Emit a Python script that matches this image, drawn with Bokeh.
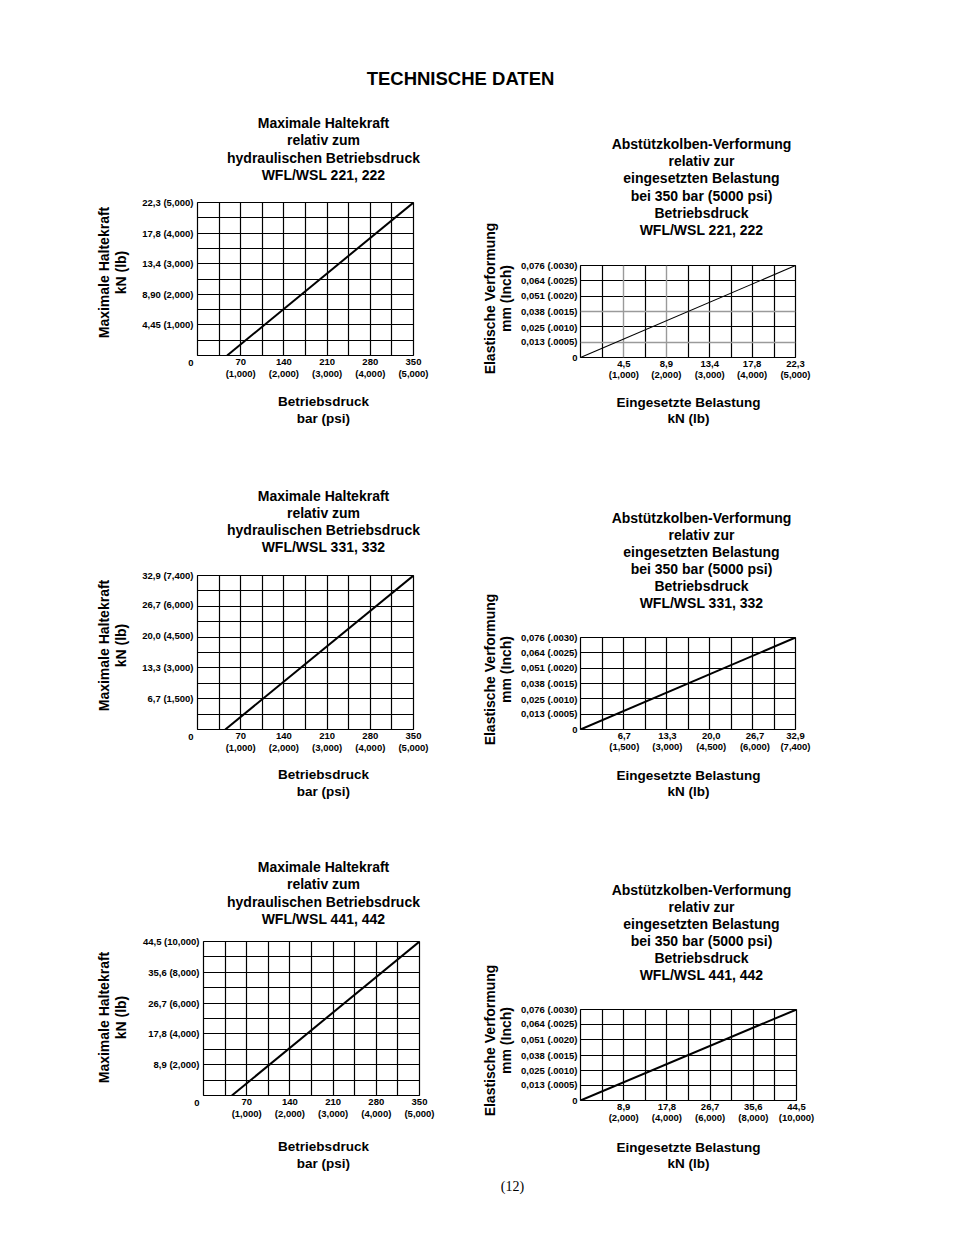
import math
from bokeh.plotting import figure
from bokeh.models import Range1d, FixedTicker, Label, Grid
from bokeh.layouts import column, row
from bokeh.embed import file_html
from bokeh.resources import INLINE

# ------------------------------------------------------------------ data
page_title = "TECHNISCHE DATEN"
page_number = "(12)"

hold_title_221 = "Maximale Haltekraft\nrelativ zum\nhydraulischen Betriebsdruck\nWFL/WSL 221, 222"
hold_title_331 = "Maximale Haltekraft\nrelativ zum\nhydraulischen Betriebsdruck\nWFL/WSL 331, 332"
hold_title_441 = "Maximale Haltekraft\nrelativ zum\nhydraulischen Betriebsdruck\nWFL/WSL 441, 442"
defl_title_221 = "Abstützkolben-Verformung\nrelativ zur\neingesetzten Belastung\nbei 350 bar (5000 psi)\nBetriebsdruck\nWFL/WSL 221, 222"
defl_title_331 = "Abstützkolben-Verformung\nrelativ zur\neingesetzten Belastung\nbei 350 bar (5000 psi)\nBetriebsdruck\nWFL/WSL 331, 332"
defl_title_441 = "Abstützkolben-Verformung\nrelativ zur\neingesetzten Belastung\nbei 350 bar (5000 psi)\nBetriebsdruck\nWFL/WSL 441, 442"

hold_xlabel = "Betriebsdruck\nbar (psi)"
hold_ylabel = "Maximale Haltekraft\nkN (lb)"
defl_xlabel = "Eingesetzte Belastung\nkN (lb)"
defl_ylabel = "Elastische Verformung\nmm (Inch)"

# holding force vs. pressure
pressure_ticks = [70, 140, 210, 280, 350]
pressure_labels = ["70\n(1,000)", "140\n(2,000)", "210\n(3,000)", "280\n(4,000)", "350\n(5,000)"]
pressure_max = 350

hold221_force_ticks = [4.45, 8.90, 13.4, 17.8, 22.3]
hold221_force_labels = ["4,45 (1,000)", "8,90 (2,000)", "13,4 (3,000)", "17,8 (4,000)", "22,3 (5,000)"]
hold221_pressure = [48, 350]
hold221_force = [0, 22.3]

hold331_force_ticks = [6.7, 13.3, 20.0, 26.7, 32.9]
hold331_force_labels = ["6,7 (1,500)", "13,3 (3,000)", "20,0 (4,500)", "26,7 (6,000)", "32,9 (7,400)"]
hold331_pressure = [45, 350]
hold331_force = [0, 32.9]

hold441_force_ticks = [8.9, 17.8, 26.7, 35.6, 44.5]
hold441_force_labels = ["8,9 (2,000)", "17,8 (4,000)", "26,7 (6,000)", "35,6 (8,000)", "44,5 (10,000)"]
hold441_pressure = [46, 350]
hold441_force = [0, 44.5]

# deflection vs. load
defl_ticks = [0.013, 0.025, 0.038, 0.051, 0.064, 0.076]
defl_labels = ["0,013 (.0005)", "0,025 (.0010)", "0,038 (.0015)", "0,051 (.0020)", "0,064 (.0025)", "0,076 (.0030)"]
defl_max = 0.076

defl221_load_ticks = [4.5, 8.9, 13.4, 17.8, 22.3]
defl221_load_labels = ["4,5\n(1,000)", "8,9\n(2,000)", "13,4\n(3,000)", "17,8\n(4,000)", "22,3\n(5,000)"]
defl221_load = [0, 22.3]
defl221_mm = [0, 0.076]

defl331_load_ticks = [6.7, 13.3, 20.0, 26.7, 32.9]
defl331_load_labels = ["6,7\n(1,500)", "13,3\n(3,000)", "20,0\n(4,500)", "26,7\n(6,000)", "32,9\n(7,400)"]
defl331_load = [0, 32.9]
defl331_mm = [0, 0.076]

defl441_load_ticks = [8.9, 17.8, 26.7, 35.6, 44.5]
defl441_load_labels = ["8,9\n(2,000)", "17,8\n(4,000)", "26,7\n(6,000)", "35,6\n(8,000)", "44,5\n(10,000)"]
defl441_load = [0, 44.5]
defl441_mm = [0, 0.076]

# ------------------------------------------------------------------ style / layout helpers
FONT = "Liberation Sans"
TOTAL_W = 950


def W(f):
    # isolate every plot in its own column so Bokeh does not align frames
    return column(f)


def blank(w, h, texts):
    """Plain pixel-mapped canvas holding text labels (x, y from its top-left)."""
    p = figure(width=w, height=h, x_range=Range1d(0, w), y_range=Range1d(h, 0),
               x_axis_location=None, y_axis_location=None, min_border=0,
               output_backend="svg", toolbar_location=None)
    p.grid.visible = False
    p.outline_line_color = None
    p.background_fill_color = "white"
    p.border_fill_color = "white"
    for t in texts:
        p.add_layout(Label(text_color="black", text_align="center", text_baseline="middle", **t))
    return p


def chart(w, h, bl, bt, fw, fh, xmax, ymax, ncols, nrows,
          xticks, xlabels, yticks, ylabels, zero_text, xs, ys, lw,
          x_standoff, x_lh, y_standoff=4, gray_cols=(), gray_rows=()):
    p = figure(frame_width=fw, frame_height=fh,
               min_border_left=bl, min_border_right=w - bl - fw,
               min_border_top=bt, min_border_bottom=h - bt - fh,
               x_range=Range1d(0, xmax), y_range=Range1d(0, ymax),
               output_backend="svg", toolbar_location=None)
    p.background_fill_color = "white"
    p.border_fill_color = "white"
    p.outline_line_color = "black"
    p.outline_line_width = 1.2
    p.outline_line_alpha = 1

    black_cols = [xmax * i / ncols for i in range(1, ncols) if i not in gray_cols]
    black_rows = [ymax * i / nrows for i in range(1, nrows) if i not in gray_rows]
    p.xgrid.ticker = FixedTicker(ticks=black_cols)
    p.ygrid.ticker = FixedTicker(ticks=black_rows)
    for g in (p.xgrid, p.ygrid):
        g.grid_line_color = "black"
        g.grid_line_width = 1.2
        g.grid_line_alpha = 1
    if gray_cols:
        p.add_layout(Grid(dimension=0, ticker=FixedTicker(ticks=[xmax * i / ncols for i in gray_cols]),
                          grid_line_color="#9a9a9a", grid_line_width=1.4))
    if gray_rows:
        p.add_layout(Grid(dimension=1, ticker=FixedTicker(ticks=[ymax * i / nrows for i in gray_rows]),
                          grid_line_color="#9a9a9a", grid_line_width=1.4))

    p.xaxis.ticker = FixedTicker(ticks=xticks)
    p.xaxis.major_label_overrides = dict(zip(xticks, xlabels))
    p.yaxis.ticker = FixedTicker(ticks=[0] + list(yticks))
    ov = dict(zip(yticks, ylabels))
    ov[0] = zero_text
    p.yaxis.major_label_overrides = ov
    for ax in (p.xaxis, p.yaxis):
        ax.axis_line_color = None
        ax.major_tick_line_color = None
        ax.minor_tick_line_color = None
        ax.major_tick_in = 0
        ax.major_tick_out = 0
        ax.minor_tick_in = 0
        ax.minor_tick_out = 0
        ax.major_label_text_font = FONT
        ax.major_label_text_font_style = "bold"
        ax.major_label_text_font_size = "9.5px"
        ax.major_label_text_color = "black"
    p.xaxis.major_label_text_line_height = x_lh
    p.yaxis.major_label_text_line_height = 1.2
    p.xaxis.major_label_standoff = x_standoff
    p.yaxis.major_label_standoff = y_standoff

    p.line(xs, ys, line_color="black", line_width=lw)
    return p


def TT(text, x, y, size="14px", lh=1.07):
    return dict(text=text, x=x, y=y, text_font=FONT, text_font_size=size,
                text_font_style="bold", text_line_height=lh)


def block(ylab_w, ylab_text, ylab_xy, col_w, title_h, title_text, title_xy,
          chart_fig, chart_h, xlab_h, xlab_text, xlab_xy):
    total_h = title_h + chart_h + xlab_h
    ylab = blank(ylab_w, total_h, [dict(angle=math.pi / 2, **TT(ylab_text, *ylab_xy, lh=1.02))])
    tfig = blank(col_w, title_h, [TT(title_text, *title_xy)])
    xfig = blank(col_w, xlab_h, [TT(xlab_text, *xlab_xy, size="13.5px", lh=1.1)])
    return row(W(ylab), column(W(tfig), W(chart_fig), W(xfig)))


# ---------------- left column (x 0..470): ylabel strip 130 + chart column 340
LY, LC = 130, 340
# ---------------- right column (x 470..950): ylabel strip 47 + chart column 433
RY, RC = 47, 433

c1 = chart(LC, 198, 67, 10, 216, 153, pressure_max, 22.3, 10, 10,
           pressure_ticks, pressure_labels, hold221_force_ticks, hold221_force_labels, "\n0",
           hold221_pressure, hold221_force, 2, 0, 1.1)
c3 = chart(LC, 198, 67, 10, 216, 154, pressure_max, 32.9, 10, 10,
           pressure_ticks, pressure_labels, hold331_force_ticks, hold331_force_labels, "\n0",
           hold331_pressure, hold331_force, 2, 0, 1.1)
c5 = chart(LC, 199, 73, 10, 216, 154, pressure_max, 44.5, 10, 10,
           pressure_ticks, pressure_labels, hold441_force_ticks, hold441_force_labels, "\n0",
           hold441_pressure, hold441_force, 2, 0, 1.1)

c2 = chart(RC, 135, 62, 10, 215, 92, 22.3, defl_max, 10, 6,
           defl221_load_ticks, defl221_load_labels, defl_ticks, defl_labels, "0",
           defl221_load, defl221_mm, 1.1, 0, 1.05, y_standoff=3, gray_cols=(2, 4), gray_rows=(1, 3))
c4 = chart(RC, 136, 62, 10, 215, 92, 32.9, defl_max, 10, 6,
           defl331_load_ticks, defl331_load_labels, defl_ticks, defl_labels, "0",
           defl331_load, defl331_mm, 2, 0, 1.05, y_standoff=3)
c6 = chart(RC, 136, 62, 10, 216, 91, 44.5, defl_max, 10, 6,
           defl441_load_ticks, defl441_load_labels, defl_ticks, defl_labels, "0",
           defl441_load, defl441_mm, 2, 0, 1.05, y_standoff=3)

# blocks (page rows: 90..460, 460..832, 832..1175)
b1 = block(LY, hold_ylabel, (112, 182), LC, 102, hold_title_221, (193, 58.5), c1, 198, 70, hold_xlabel, (193, 19.5))
b3 = block(LY, hold_ylabel, (112, 185), LC, 105, hold_title_331, (193, 61), c3, 198, 69, hold_xlabel, (193, 19.5))
b5 = block(LY, hold_ylabel, (112, 185), LC, 99, hold_title_441, (193, 60.5), c5, 199, 45, hold_xlabel, (193, 24.5))

b2 = block(RY, defl_ylabel, (27.5, 208), RC, 165, defl_title_221, (184, 96.5), c2, 135, 70, defl_xlabel, (171, 20))
b4 = block(RY, defl_ylabel, (27.5, 209), RC, 167, defl_title_331, (184, 100), c4, 136, 69, defl_xlabel, (171, 20))
b6 = block(RY, defl_ylabel, (27.5, 208), RC, 167, defl_title_441, (184, 100), c6, 136, 40, defl_xlabel, (171, 20))

top = blank(TOTAL_W, 90, [TT(page_title, 460, 78, size="18.5px")])
bottom = blank(TOTAL_W, 57, [dict(text=page_number, x=512, y=11, text_font="Liberation Serif",
                                  text_font_size="14px", text_font_style="normal")])

layout = column(W(top),
                row(column(b1, b3, b5), column(b2, b4, b6)),
                W(bottom))

open("out.html", "w").write(file_html(layout, INLINE))
